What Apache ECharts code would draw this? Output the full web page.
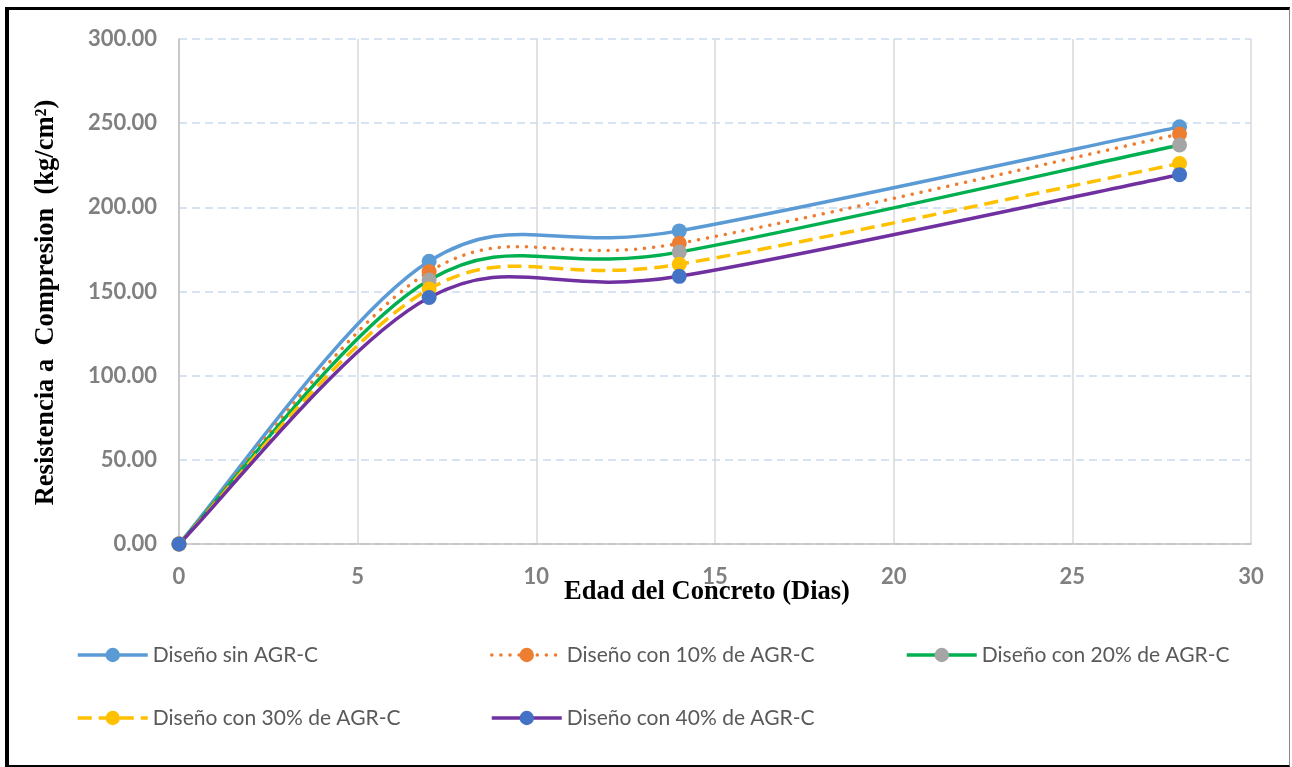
<!DOCTYPE html>
<html>
<head>
<meta charset="utf-8">
<script src="https://cdn.jsdelivr.net/npm/echarts@6/dist/echarts.min.js"></script>
<style>
  html, body { margin: 0; padding: 0; background: #fff; }
  #chart { position: absolute; left: 0; top: 0; width: 1292px; height: 767px; }
  #frame { position: absolute; left: 5px; top: 7px; width: 1280px; height: 755px;
           border-left: 4px solid #000; border-top: 3px solid #000;
           border-right: 1px solid #888; border-bottom: 2px solid #000; pointer-events: none; }
</style>
</head>
<body>
<div id="chart"></div>
<div id="frame"></div>
<script>
const ages = [0, 7, 14, 28];
const seriesNames = [
  'Diseño sin AGR-C',
  'Diseño con 10% de AGR-C',
  'Diseño con 20% de AGR-C',
  'Diseño con 30% de AGR-C',
  'Diseño con 40% de AGR-C'
];
const sinAGR = [0, 168.0, 186.0, 247.8];
const con10 = [0, 161.8, 178.6, 243.6];
const con20 = [0, 156.8, 173.4, 237.0];
const con30 = [0, 151.5, 166.2, 226.0];
const con40 = [0, 146.4, 159.0, 219.4];
const xTicks = [0, 5, 10, 15, 20, 25, 30];
const yTicks = [0, 50, 100, 150, 200, 250, 300];

const lineColors = ['#5B9BD5', '#ED7D31', '#00B050', '#FFC000', '#7030A0'];
const markerColors = ['#5B9BD5', '#ED7D31', '#A5A5A5', '#FFC000', '#4472C4'];
const lineDashes = [null, [0.1, 9], null, [14, 7], null];
const lineTypes = ['solid', [0.1, 9], 'solid', [14, 7], 'solid'];
const allData = [sinAGR, con10, con20, con30, con40];
const LW = 3.5;

const chart = echarts.init(document.getElementById('chart'));

// Excel-style smoothed curve (Catmull-Rom Bezier in pixel space) built from the data via the axes' scales
function smoothPath(pts) {
  let d = 'M' + pts[0][0] + ' ' + pts[0][1];
  for (let i = 0; i < pts.length - 1; i++) {
    const p0 = pts[i - 1] || pts[i];
    const p1 = pts[i];
    const p2 = pts[i + 1];
    const p3 = pts[i + 2] || pts[i + 1];
    const c1 = [p1[0] + (p2[0] - p0[0]) / 6, p1[1] + (p2[1] - p0[1]) / 6];
    const c2 = [p2[0] - (p3[0] - p1[0]) / 6, p2[1] - (p3[1] - p1[1]) / 6];
    d += ' C' + c1[0] + ' ' + c1[1] + ' ' + c2[0] + ' ' + c2[1] + ' ' + p2[0] + ' ' + p2[1];
  }
  return d;
}

const markerSeries = allData.map((vals, i) => ({
  name: seriesNames[i],
  type: 'line',
  data: vals.map((v, j) => [ages[j], v]),
  symbol: 'circle',
  symbolSize: 15,
  lineStyle: { opacity: 0 },
  itemStyle: { color: markerColors[i] },
  emphasis: { disabled: true },
  z: 10 + i
}));

const curveSeries = allData.map((vals, i) => ({
  name: seriesNames[i],
  type: 'custom',
  coordinateSystem: 'cartesian2d',
  data: [[0, 0]],
  encode: { x: 0, y: 1 },
  silent: true,
  z: 2 + i,
  renderItem: function (params, api) {
    const pts = vals.map((v, j) => api.coord([ages[j], v]));
    return {
      type: 'path',
      shape: { pathData: smoothPath(pts) },
      style: {
        fill: null,
        stroke: lineColors[i],
        lineWidth: LW,
        lineDash: lineDashes[i],
        lineCap: i === 1 ? 'round' : 'butt'
      }
    };
  }
}));

const legendText = { fontFamily: 'Lato', fontSize: 21, color: '#595959', lineHeight: 22 };
const legendItem = i => ({
  name: seriesNames[i],
  lineStyle: { color: lineColors[i], width: LW, type: lineTypes[i], opacity: 1, cap: i === 1 ? 'round' : 'butt' },
  itemStyle: { color: markerColors[i] }
});
const legendBase = { orient: 'vertical', top: 644, padding: 0, itemWidth: 70, itemHeight: 18, itemGap: 41, textStyle: legendText };

chart.setOption({
  animation: false,
  backgroundColor: '#fff',
  grid: { left: 179, right: 41, top: 39, bottom: 223 },
  xAxis: {
    type: 'value', min: 0, max: 30, interval: 5,
    name: 'Edad del Concreto (Dias)', nameLocation: 'middle', nameGap: 35, nameMoveOverlap: false,
    nameTextStyle: { fontFamily: 'Liberation Serif', fontWeight: 'bold', fontSize: 26.5, color: '#000', padding: [0, 16, 0, 0] },
    axisLine: { show: true, lineStyle: { color: '#BFBFBF', width: 1.5 } },
    axisTick: { show: false },
    axisLabel: { margin: 22, fontFamily: 'Lato', fontWeight: 'bold', fontSize: 22, color: '#808080',
      formatter: v => xTicks.includes(v) ? String(v) : '' },
    splitLine: { show: true, lineStyle: { color: '#D9D9D9', width: 1.5 } }
  },
  yAxis: {
    type: 'value', min: 0, max: 300, interval: 50,
    name: 'Resistencia a  Compresion  (kg/cm²)', nameLocation: 'middle', nameGap: 119, nameMoveOverlap: false,
    nameTextStyle: { fontFamily: 'Liberation Serif', fontWeight: 'bold', fontSize: 26.5, color: '#000', padding: [0, 22, 0, 0] },
    axisLine: { show: true, lineStyle: { color: '#BFBFBF', width: 1.5 } },
    axisTick: { show: false },
    axisLabel: { margin: 22, fontFamily: 'Lato', fontWeight: 'bold', fontSize: 22, color: '#808080',
      formatter: v => yTicks.includes(v) ? v.toFixed(2) : '' },
    splitLine: { show: true, lineStyle: { color: '#C9DAEE', width: 1.5, type: [8, 5] } }
  },
  legend: [
    Object.assign({}, legendBase, { left: 76, data: [legendItem(0), legendItem(3)] }),
    Object.assign({}, legendBase, { left: 490, data: [legendItem(1), legendItem(4)] }),
    Object.assign({}, legendBase, { left: 905, data: [legendItem(2)] })
  ],
  series: markerSeries.concat(curveSeries)
});
</script>
</body>
</html>
